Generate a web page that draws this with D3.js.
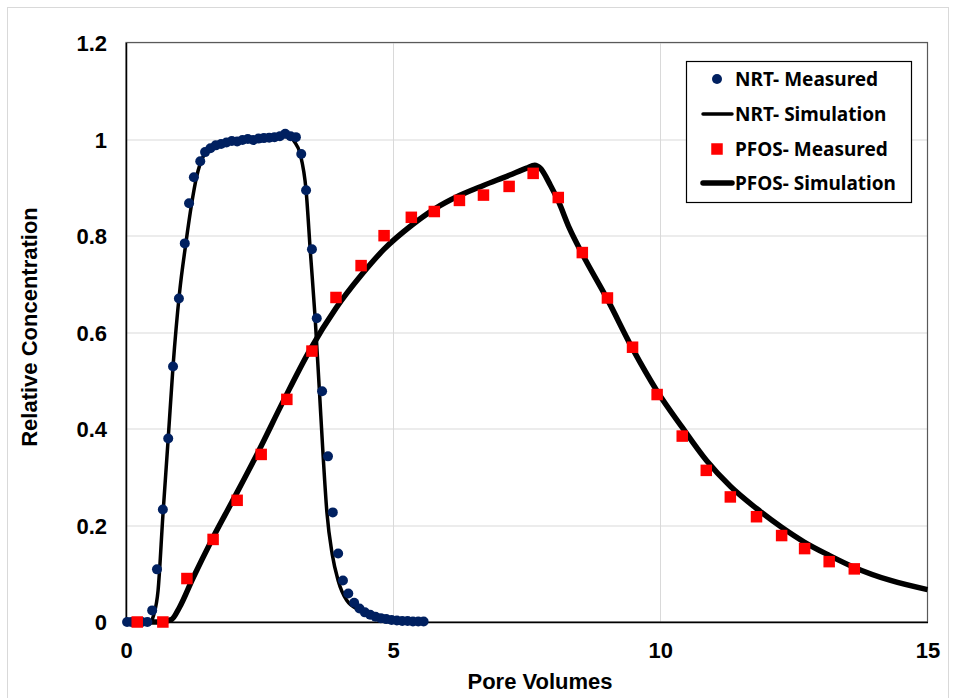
<!DOCTYPE html>
<html>
<head>
<meta charset="utf-8">
<script src="https://cdn.jsdelivr.net/npm/d3@7"></script>
<style>
  body { margin: 0; background: #fff; }
  svg { display: block; }
</style>
</head>
<body>
<div id="chart"></div>
<script>
// NRT measured (pore volumes, relative concentration)
let nrtPV = [0.02, 0.1, 0.2, 0.3, 0.4, 0.49, 0.58, 0.69, 0.79, 0.88, 0.99, 1.1, 1.18, 1.27, 1.39,
  1.48, 1.58, 1.68, 1.78, 1.88, 1.98, 2.08, 2.18, 2.28, 2.38, 2.48, 2.58, 2.68, 2.78, 2.88, 2.98,
  3.08, 3.18, 3.28, 3.37, 3.48, 3.57, 3.67, 3.78, 3.87, 3.97, 4.06, 4.16, 4.27, 4.37, 4.47, 4.57,
  4.67, 4.77, 4.87, 4.97, 5.07, 5.17, 5.27, 5.37, 5.47, 5.57];
let nrtC = [0, 0, 0, 0, 0, 0.024, 0.109, 0.233, 0.38, 0.529, 0.67, 0.784, 0.867, 0.921, 0.954,
  0.973, 0.981, 0.987, 0.99, 0.993, 0.996, 0.995, 0.998, 1.0, 0.998, 1.001, 1.002, 1.003, 1.004, 1.006, 1.011,
  1.006, 1.004, 0.969, 0.894, 0.772, 0.629, 0.478, 0.343, 0.227, 0.142, 0.086, 0.059, 0.04, 0.028, 0.02, 0.015,
  0.011, 0.008, 0.006, 0.004, 0.003, 0.002, 0.002, 0.001, 0.001, 0.001];

// NRT simulation
let nrtSimPV = [0, 0.45, 0.52, 0.6, 0.69, 0.79, 0.88, 1.0, 1.12, 1.23, 1.32, 1.45, 1.7, 2.0, 2.5, 2.9,
  3.05, 3.15, 3.26, 3.37, 3.45, 3.54, 3.62, 3.69, 3.76, 3.86, 3.97, 4.13, 4.38, 4.76, 5.0];
let nrtSimC = [0, 0, 0.015, 0.065, 0.22, 0.38, 0.529, 0.68, 0.784, 0.867, 0.921, 0.965, 0.988, 0.997, 1.002, 1.006,
  1.005, 0.995, 0.969, 0.894, 0.767, 0.629, 0.478, 0.343, 0.227, 0.14, 0.086, 0.045, 0.024, 0.011, 0.007];

// PFOS measured
let pfosPV = [0.21, 0.69, 1.14, 1.63, 2.08, 2.53, 3.01, 3.48, 3.93, 4.4, 4.83, 5.34, 5.77, 6.24, 6.69,
  7.17, 7.62, 8.09, 8.54, 9.01, 9.48, 9.94, 10.41, 10.86, 11.31, 11.8, 12.27, 12.7, 13.16, 13.63];
let pfosC = [0, 0, 0.09, 0.171, 0.252, 0.347, 0.461, 0.561, 0.672, 0.738, 0.8, 0.838, 0.85, 0.873, 0.884,
  0.902, 0.929, 0.879, 0.765, 0.671, 0.569, 0.471, 0.385, 0.314, 0.259, 0.218, 0.179, 0.152, 0.125, 0.11];

// PFOS simulation
let pfosSimPV = [0, 0.6, 0.85, 1.0, 1.25, 1.61, 2.0, 2.45, 2.96, 3.43, 3.93, 4.4, 4.83, 5.34, 5.77, 6.24,
  6.69, 7.17, 7.5, 7.65, 7.75, 7.94, 8.09, 8.3, 8.54, 9.01, 9.48, 9.94, 10.41, 10.86, 11.31, 11.8,
  12.27, 12.7, 13.16, 13.63, 14.31, 15.0];
let pfosSimC = [0, 0, 0.005, 0.03, 0.09, 0.171, 0.252, 0.347, 0.461, 0.561, 0.65, 0.718, 0.772, 0.821, 0.855, 0.883,
  0.904, 0.925, 0.940, 0.946, 0.94, 0.905, 0.872, 0.815, 0.762, 0.668, 0.566, 0.478, 0.403, 0.335, 0.281, 0.235,
  0.196, 0.165, 0.138, 0.113, 0.086, 0.067];

let xTicks = [0, 5, 10, 15];
let yTicks = [0, 0.2, 0.4, 0.6, 0.8, 1, 1.2];
let legendLabels = ['NRT- Measured', 'NRT- Simulation', 'PFOS- Measured', 'PFOS- Simulation'];

let W = 958, H = 698;
let m = {left: 126, top: 42.5, right: 30.5, bottom: 76};
let gW = W - m.left - m.right;
let gH = H - m.top - m.bottom;

let svg = d3.select('#chart').append('svg')
    .attr('width', W)
    .attr('height', H);

// outer chart border
svg.append('rect')
    .attr('x', 7.5).attr('y', 7.5)
    .attr('width', 941).attr('height', 700)
    .attr('fill', 'none')
    .attr('stroke', '#d9d9d9');

let g = svg.append('g').attr('transform', 'translate(' + m.left + ',' + m.top + ')');

let xScale = d3.scaleLinear().domain([0, 15]).range([0, gW]);
let yScale = d3.scaleLinear().domain([0, 1.2]).range([gH, 0]);

// gridlines
g.append('g').selectAll('line.hg')
    .data(yTicks.filter(d => d > 0))
    .enter().append('line')
    .attr('x1', 0).attr('x2', gW)
    .attr('y1', d => Math.round(yScale(d)) + 0.5)
    .attr('y2', d => Math.round(yScale(d)) + 0.5)
    .attr('stroke', '#d9d9d9');
g.append('g').selectAll('line.vg')
    .data(xTicks.filter(d => d > 0 && d < 15))
    .enter().append('line')
    .attr('y1', 0).attr('y2', gH)
    .attr('x1', d => Math.round(xScale(d)) + 0.5)
    .attr('x2', d => Math.round(xScale(d)) + 0.5)
    .attr('stroke', '#d9d9d9');

// plot border
g.append('rect')
    .attr('x', 0).attr('y', 0)
    .attr('width', gW).attr('height', gH)
    .attr('fill', 'none')
    .attr('stroke', '#595959')
    .attr('stroke-width', 1.2);

// axes
let xAxis = g.append('g')
    .attr('transform', 'translate(0,' + gH + ')')
    .call(d3.axisBottom(xScale).tickValues(xTicks).tickSize(0).tickPadding(20).tickFormat(d3.format('d')));
let yAxis = g.append('g')
    .call(d3.axisLeft(yScale).tickValues(yTicks).tickSize(0).tickPadding(19).tickFormat(d => d === 0 ? '0' : d3.format('')(d)));
[xAxis, yAxis].forEach(a => {
    a.select('.domain').attr('stroke', '#000').attr('stroke-width', 1.5);
    a.selectAll('text')
        .attr('fill', '#000')
        .style('font-family', '"Liberation Sans", Arial, sans-serif')
        .style('font-weight', 'bold')
        .style('font-size', '22px');
});
yAxis.selectAll('text').attr('dy', '0.36em');

// simulation lines
let line = d3.line()
    .x(d => xScale(d[0]))
    .y(d => yScale(d[1]))
    .curve(d3.curveMonotoneX);

let nrtSim = nrtSimPV.map((v, i) => [v, nrtSimC[i]]);
let pfosSim = pfosSimPV.map((v, i) => [v, pfosSimC[i]]);

g.append('path')
    .datum(pfosSim)
    .attr('d', line)
    .attr('fill', 'none')
    .attr('stroke', '#000')
    .attr('stroke-width', 5.5)
    .attr('stroke-linejoin', 'round');

g.append('path')
    .datum(nrtSim)
    .attr('d', line)
    .attr('fill', 'none')
    .attr('stroke', '#000')
    .attr('stroke-width', 3.5)
    .attr('stroke-linejoin', 'round');

// NRT measured dots
let rDot = 5;
g.append('g').selectAll('circle')
    .data(nrtPV.map((v, i) => [v, nrtC[i]]))
    .enter().append('circle')
    .attr('cx', d => xScale(d[0]))
    .attr('cy', d => yScale(d[1]))
    .attr('r', rDot)
    .attr('fill', '#002060');

// PFOS measured squares
let sq = 11.5;
g.append('g').selectAll('rect')
    .data(pfosPV.map((v, i) => [v, pfosC[i]]))
    .enter().append('rect')
    .attr('x', d => xScale(d[0]) - sq / 2)
    .attr('y', d => yScale(d[1]) - sq / 2)
    .attr('width', sq).attr('height', sq)
    .attr('fill', '#ff0000');

// axis titles
svg.append('text')
    .attr('x', 540).attr('y', 689)
    .attr('text-anchor', 'middle')
    .style('font-family', '"Liberation Sans", Arial, sans-serif')
    .style('font-weight', 'bold')
    .style('font-size', '22px')
    .text('Pore Volumes');
svg.append('text')
    .attr('transform', 'translate(37,327) rotate(-90)')
    .attr('text-anchor', 'middle')
    .style('font-family', '"Liberation Sans", Arial, sans-serif')
    .style('font-weight', 'bold')
    .style('font-size', '22px')
    .text('Relative Concentration');

// legend
let lg = svg.append('g');
lg.append('rect')
    .attr('x', 686.5).attr('y', 61.5)
    .attr('width', 225).attr('height', 141)
    .attr('fill', '#fff')
    .attr('stroke', '#000')
    .attr('stroke-width', 1.2);
let rowY = [79, 114, 149, 183];
lg.append('circle').attr('cx', 717).attr('cy', rowY[0]).attr('r', rDot).attr('fill', '#002060');
lg.append('line').attr('x1', 703).attr('x2', 732).attr('y1', rowY[1]).attr('y2', rowY[1])
    .attr('stroke', '#000').attr('stroke-width', 3.5).attr('stroke-linecap', 'round');
lg.append('rect').attr('x', 717 - sq / 2).attr('y', rowY[2] - sq / 2).attr('width', sq).attr('height', sq).attr('fill', '#ff0000');
lg.append('line').attr('x1', 703).attr('x2', 732).attr('y1', rowY[3]).attr('y2', rowY[3])
    .attr('stroke', '#000').attr('stroke-width', 5.5).attr('stroke-linecap', 'round');
lg.selectAll('text.lab')
    .data(legendLabels)
    .enter().append('text')
    .attr('class', 'lab')
    .attr('x', 735)
    .attr('y', (d, i) => rowY[i] + 7)
    .style('font-family', '"Noto Sans", sans-serif')
    .style('font-weight', 'bold')
    .style('font-size', '19px')
    .text(d => d);
</script>
</body>
</html>
